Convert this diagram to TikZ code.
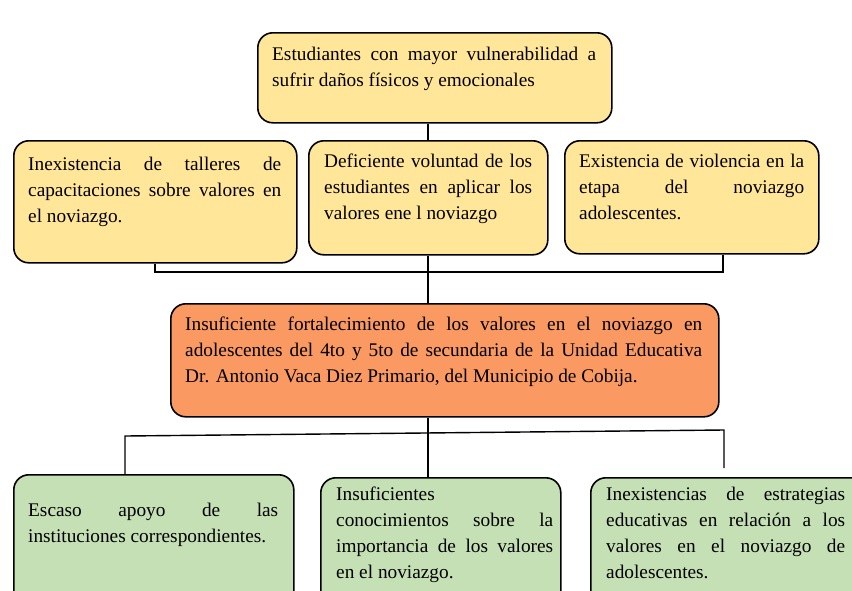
\documentclass[tikz,border=0pt]{standalone}
\usepackage{fontspec}
\setmainfont{Liberation Serif}
\usetikzlibrary{positioning}
\definecolor{amarillo}{HTML}{FFE699}
\definecolor{naranja}{HTML}{FA9962}
\definecolor{verde}{HTML}{C5E0B4}
\tikzset{
  caja/.style={draw=black, line width=1.6pt, rounded corners=15pt, anchor=north west, inner sep=0pt},
  texto/.style={anchor=north west, inner sep=0pt, align=justify, font=\fontsize{19.3}{26}\selectfont},
  linea/.style={line width=1.4pt}
}
\begin{document}
\begin{tikzpicture}[x=1pt,y=-1pt]
\useasboundingbox (0,0) rectangle (852,590);
\clip (0,0) rectangle (852,590);
% efecto
\node[caja, fill=amarillo, minimum width=354, minimum height=90] (efecto) at (257,32) {};
\node[texto, text width=324] (tefecto) at (272,47) {Estudiantes con mayor vulnerabilidad a\linebreak sufrir daños físicos y emocionales};
% causas
\node[caja, fill=amarillo, minimum width=283, minimum height=122] (c1) at (13,140) {};
\node[texto, text width=253] (tc1) at (28,157) {Inexistencia de talleres de\linebreak capacitaciones sobre valores en\linebreak el noviazgo.};
\node[caja, fill=amarillo, minimum width=239, minimum height=114] (c2) at (308,140) {};
\node[texto, text width=208] (tc2) at (324,154) {Deficiente voluntad de los\linebreak estudiantes en aplicar los\linebreak valores ene l noviazgo};
\node[caja, fill=amarillo, minimum width=254, minimum height=113] (c3) at (564,140) {};
\node[texto, text width=225] (tc3) at (579,154) {Existencia de violencia en la\linebreak etapa del noviazgo\linebreak adolescentes.};
% problema
\node[caja, fill=naranja, minimum width=548, minimum height=113] (problema) at (170,303) {};
\node[texto, text width=517] (tproblema) at (185,317) {Insuficiente fortalecimiento de los valores en el noviazgo en\linebreak adolescentes del 4to y 5to de secundaria de la Unidad Educativa\linebreak Dr. Antonio Vaca Diez Primario, del Municipio de Cobija.};
% consecuencias
\node[caja, fill=verde, minimum width=280, minimum height=140] (e1) at (13,474) {};
\node[texto, text width=250] (te1) at (28,503) {Escaso apoyo de las\linebreak instituciones correspondientes.};
\node[caja, fill=verde, minimum width=240, minimum height=140] (e2) at (320,477) {};
\node[texto, text width=217] (te2) at (336,487) {Insuficientes\\ conocimientos sobre la\linebreak importancia de los valores\linebreak en el noviazgo.};
\node[caja, fill=verde, minimum width=280, minimum height=140] (e3) at (590,477) {};
\node[texto, text width=239] (te3) at (606,487) {Inexistencias de estrategias\linebreak educativas en relación a los\linebreak valores en el noviazgo de\linebreak adolescentes.};
% conectores
\coordinate (eje) at (428,0);
\coordinate (b1) at (155,272);
\coordinate (b2) at (723,272);
\coordinate (d1) at (125,436);
\coordinate (d2) at (724,430);
\coordinate (d3) at (724,468);
\draw[linea] (efecto.south -| eje) -- (c2.north -| eje);
\draw[linea] (c1.south -| b1) -- (b1) -- (b2) -- (c3.south -| b2);
\draw[linea] (c2.south -| eje) -- (problema.north -| eje);
\draw[linea] (problema.south -| eje) -- (e2.north -| eje);
\draw[linea] (e1.north -| d1) -- (d1) -- (d2) -- (d3);
\end{tikzpicture}
\end{document}
